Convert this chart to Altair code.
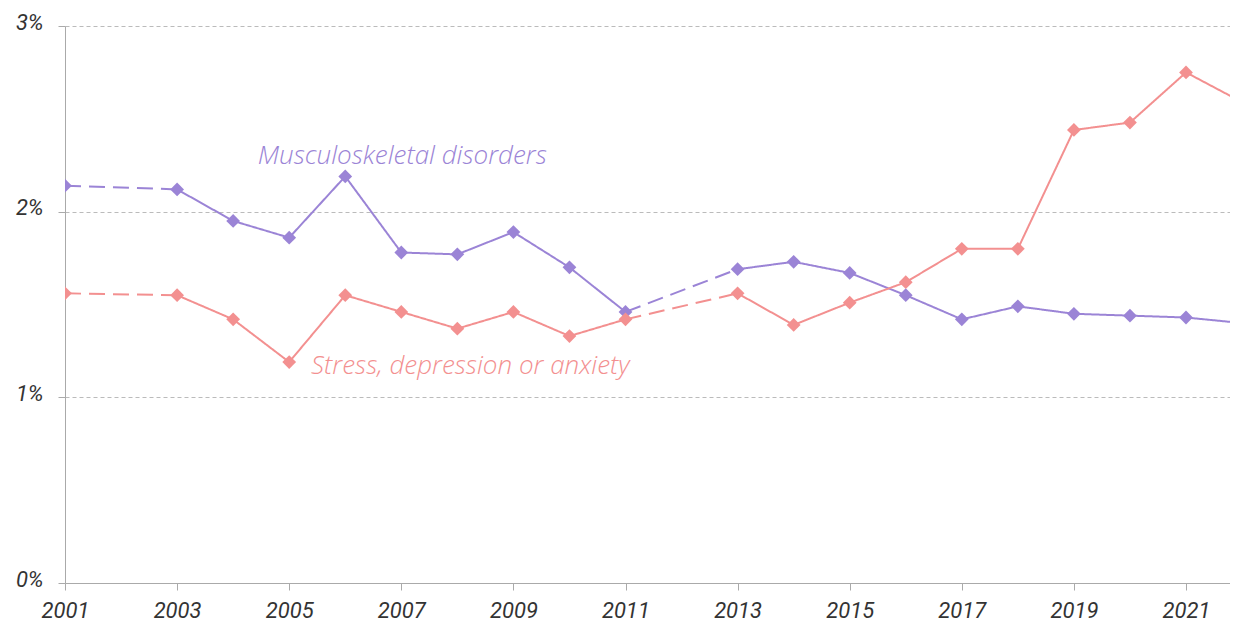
import altair as alt
import pandas as pd

years = [2001, 2003, 2004, 2005, 2006, 2007, 2008, 2009, 2010, 2011,
         2013, 2014, 2015, 2016, 2017, 2018, 2019, 2020, 2021, 2022]
msd = [2.14, 2.12, 1.95, 1.86, 2.19, 1.78, 1.77, 1.89, 1.70, 1.46,
       1.69, 1.73, 1.67, 1.55, 1.42, 1.49, 1.45, 1.44, 1.43, 1.40]
sda = [1.56, 1.55, 1.42, 1.19, 1.55, 1.46, 1.37, 1.46, 1.33, 1.42,
       1.56, 1.39, 1.51, 1.62, 1.80, 1.80, 2.44, 2.48, 2.75, 2.59]

series_names = ["Musculoskeletal disorders", "Stress, depression or anxiety"]
series_colors = ["#9B84D6", "#F39090"]
label_year = [2004.44, 2005.39]
label_value = [2.30, 1.17]
x_ticks = [2001, 2003, 2005, 2007, 2009, 2011, 2013, 2015, 2017, 2019, 2021]
y_ticks = [0, 1, 2, 3]

seg_rows = []
pt_rows = []
for name, vals in zip(series_names, [msd, sda]):
    for i in range(len(years)):
        pt_rows.append(dict(series=name, year=years[i], value=vals[i]))
    for i in range(len(years) - 1):
        style = "dashed" if years[i + 1] - years[i] > 1 else "solid"
        seg = f"{name}-{i}"
        seg_rows.append(dict(series=name, year=years[i], value=vals[i], seg=seg, style=style))
        seg_rows.append(dict(series=name, year=years[i + 1], value=vals[i + 1], seg=seg, style=style))

seg_df = pd.DataFrame(seg_rows)
pt_df = pd.DataFrame(pt_rows)
lab_df = pd.DataFrame(dict(series=series_names, year=label_year, value=label_value))

color_scale = alt.Scale(domain=series_names, range=series_colors)
x_scale = alt.Scale(domain=[2001, 2021.785], nice=False, zero=False)
y_scale = alt.Scale(domain=[0, 3], nice=False)

x_enc = alt.X("year:Q", scale=x_scale,
              axis=alt.Axis(values=x_ticks, format="d", title=None, grid=False,
                            labelFlush=False, labelPadding=10, tickSize=7,
                            domainColor="#aaaaaa", tickColor="#aaaaaa"))
y_enc = alt.Y("value:Q", scale=y_scale,
              axis=alt.Axis(values=y_ticks, title=None, labelExpr="datum.value + '%'",
                            grid=True, gridDash=[4, 3], gridColor="#bbbbbb",
                            domainColor="#aaaaaa", tickColor="#aaaaaa", tickSize=7,
                            labelPadding=15, labelOffset=-4))

lines = alt.Chart(seg_df).mark_line(strokeWidth=2, clip=True).encode(
    x=x_enc, y=y_enc,
    color=alt.Color("series:N", scale=color_scale, legend=None),
    detail="seg:N",
    strokeDash=alt.StrokeDash("style:N",
                              scale=alt.Scale(domain=["solid", "dashed"], range=[[1, 0], [16, 8]]),
                              legend=None),
)

points = alt.Chart(pt_df).mark_point(shape="diamond", filled=True, size=190, opacity=1, clip=True).encode(
    x="year:Q", y="value:Q",
    color=alt.Color("series:N", scale=color_scale, legend=None),
)

labels = alt.Chart(lab_df).mark_text(align="left", baseline="middle", font="Open Sans",
                                     fontStyle="italic", fontWeight=300, fontSize=26).encode(
    x="year:Q", y="value:Q", text="series:N",
    color=alt.Color("series:N", scale=color_scale, legend=None),
)

chart = alt.layer(lines, points, labels).properties(
    width=1165, height=557,
    autosize=alt.AutoSizeParams(type="none"),
    padding={"left": 57, "top": 18, "right": 0, "bottom": 38},
).configure_view(stroke=None).configure_axis(
    labelFont="Roboto", labelFontStyle="italic", labelFontSize=22, labelColor="#333333",
)

chart.save("out.html", embed_options={"renderer": "svg", "actions": False})
